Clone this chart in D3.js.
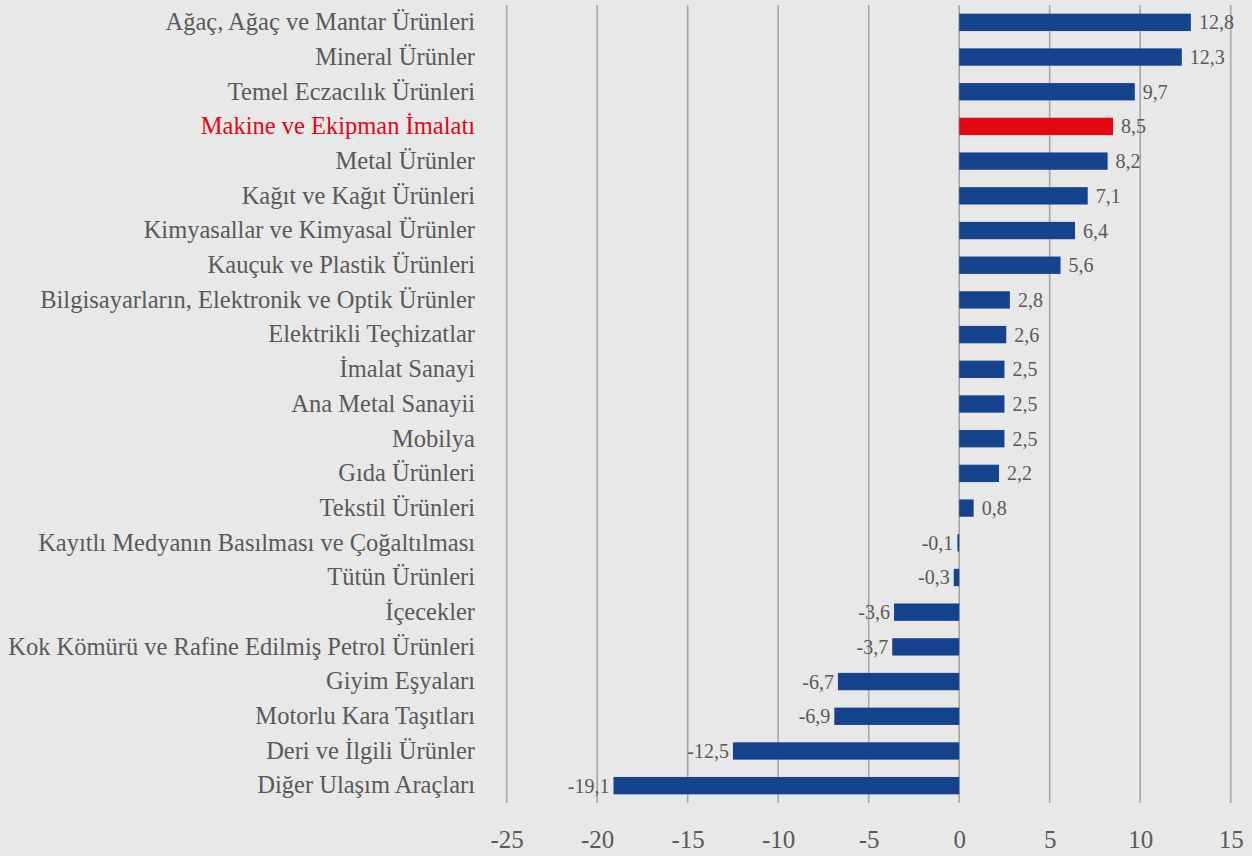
<!DOCTYPE html>
<html><head><meta charset="utf-8">
<script src="https://cdn.jsdelivr.net/npm/d3@7"></script>
<style>
html,body{margin:0;padding:0;background:#e8e8e8;}
svg{display:block;}
</style></head>
<body>
<svg id="chart" width="1252" height="856"></svg>
<script>
const categories = [
  "Ağaç, Ağaç ve Mantar Ürünleri",
  "Mineral Ürünler",
  "Temel Eczacılık Ürünleri",
  "Makine ve Ekipman İmalatı",
  "Metal Ürünler",
  "Kağıt ve Kağıt Ürünleri",
  "Kimyasallar ve Kimyasal Ürünler",
  "Kauçuk ve Plastik Ürünleri",
  "Bilgisayarların, Elektronik ve Optik Ürünler",
  "Elektrikli Teçhizatlar",
  "İmalat Sanayi",
  "Ana Metal Sanayii",
  "Mobilya",
  "Gıda Ürünleri",
  "Tekstil Ürünleri",
  "Kayıtlı Medyanın Basılması ve Çoğaltılması",
  "Tütün Ürünleri",
  "İçecekler",
  "Kok Kömürü ve Rafine Edilmiş Petrol Ürünleri",
  "Giyim Eşyaları",
  "Motorlu Kara Taşıtları",
  "Deri ve İlgili Ürünler",
  "Diğer Ulaşım Araçları"
];
const values = [12.8, 12.3, 9.7, 8.5, 8.2, 7.1, 6.4, 5.6, 2.8, 2.6, 2.5, 2.5, 2.5, 2.2, 0.8, -0.1, -0.3, -3.6, -3.7, -6.7, -6.9, -12.5, -19.1];
const highlight = "Makine ve Ekipman İmalatı";
const tickValues = [-25, -20, -15, -10, -5, 0, 5, 10, 15];

const data = categories.map((c, i) => ({cat: c, val: values[i]}));
const svg = d3.select("#chart");
const font = "'Liberation Serif', 'DejaVu Serif', serif";
const textColor = "#595959";

const x = d3.scaleLinear().domain([-25, 15]).range([506.7, 1230.7]);
const y = d3.scaleBand().domain(categories).range([5, 803]).paddingInner(0.5).paddingOuter(0.25);

// gridlines
svg.append("g").selectAll("line").data(tickValues).join("line")
  .attr("x1", d => x(d)).attr("x2", d => x(d))
  .attr("y1", 5).attr("y2", 803)
  .attr("stroke", "#a6a6a6").attr("stroke-width", 1.6);

// x axis labels
const xAxis = d3.axisBottom(x).tickValues(tickValues).tickSize(0).tickPadding(0)
  .tickFormat(d => String(d));
const gx = svg.append("g").attr("transform", "translate(0,830)").call(xAxis);
gx.select(".domain").remove();
gx.selectAll("text").attr("font-family", font).attr("font-size", 25).attr("fill", textColor);

// bars
svg.append("g").selectAll("rect").data(data).join("rect")
  .attr("x", d => x(Math.min(0, d.val)))
  .attr("width", d => Math.abs(x(d.val) - x(0)))
  .attr("y", d => y(d.cat))
  .attr("height", y.bandwidth())
  .attr("fill", d => d.cat === highlight ? "#e30613" : "#15438e");

// category labels
const yAxis = d3.axisLeft(y).tickSize(0).tickPadding(0);
const gy = svg.append("g").attr("transform", "translate(475,0)").call(yAxis);
gy.select(".domain").remove();
gy.selectAll("text").attr("font-family", font).attr("font-size", 24.5)
  .attr("fill", d => d === highlight ? "#e30613" : textColor);

// value labels
const fmt = v => String(v).replace(".", ",");
svg.append("g").selectAll("text").data(data).join("text")
  .attr("x", d => d.val >= 0 ? x(d.val) + 8 : x(d.val) - 4)
  .attr("y", d => y(d.cat) + y.bandwidth() / 2)
  .attr("dy", "0.35em")
  .attr("text-anchor", d => d.val >= 0 ? "start" : "end")
  .attr("font-family", font).attr("font-size", 20).attr("fill", textColor)
  .text(d => fmt(d.val));
</script>
</body></html>
